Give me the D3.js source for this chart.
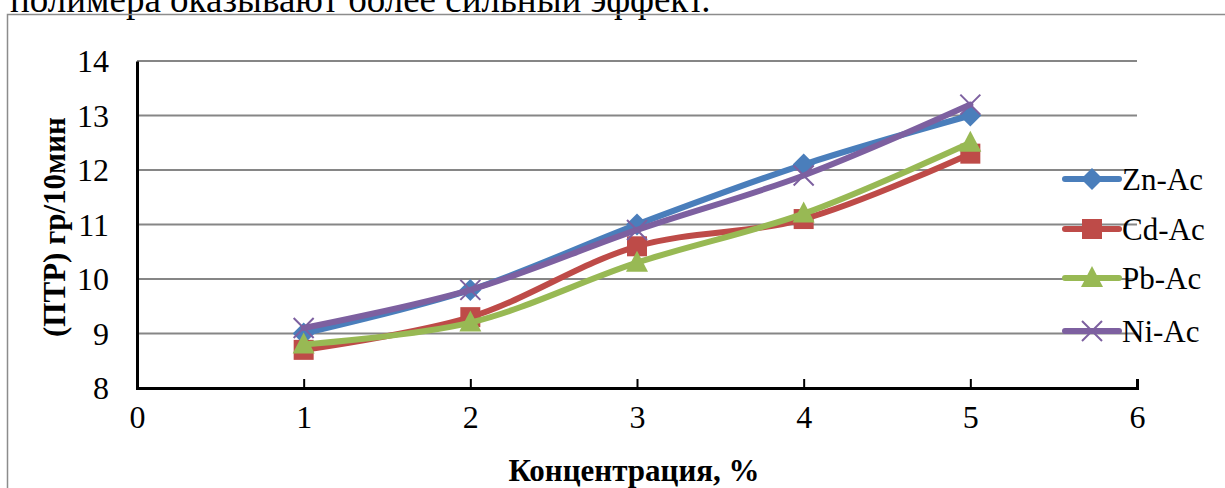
<!DOCTYPE html>
<html><head><meta charset="utf-8">
<script src="https://cdn.jsdelivr.net/npm/d3@7"></script>
<style>body{margin:0;background:#fff}svg{display:block}</style>
</head><body><svg id="c" width="1225" height="488"></svg>
<script>
const xTicks = [0,1,2,3,4,5,6];
const yTicks = [8,9,10,11,12,13,14];
const concentrations = [1,2,3,4,5];
const seriesNames = ["Zn-Ac","Cd-Ac","Pb-Ac","Ni-Ac"];
const znAc = [9.0, 9.8, 11.0, 12.1, 13.0];
const cdAc = [8.7, 9.3, 10.6, 11.1, 12.3];
const pbAc = [8.8, 9.2, 10.3, 11.2, 12.5];
const niAc = [9.1, 9.8, 10.9, 11.9, 13.2];
const colors = ["#4A7EBB","#BE4B48","#98B954","#7D60A0"];
const markers = ["diamond","square","triangle","cross"];
const seriesValues = [znAc, cdAc, pbAc, niAc];

const svg = d3.select("#c");
const font = "'Liberation Serif','Times New Roman',serif";

svg.append("text").attr("x",10).attr("y",11.5).attr("font-family",font).attr("font-size",37)
  .text("полимера оказывают более сильный эффект.");
svg.append("rect").attr("x",7.5).attr("y",14.5).attr("width",1240).attr("height",500)
  .attr("fill","none").attr("stroke","#8c8c8c").attr("stroke-width",1.5);

const x = d3.scaleLinear().domain([0,6]).range([137,1137]);
const y = d3.scaleLinear().domain([8,14]).range([388,61]);

svg.append("g").selectAll("line").data(yTicks.filter(d=>d>8)).join("line")
  .attr("x1",x(0)).attr("x2",x(6)).attr("y1",d=>y(d)).attr("y2",d=>y(d))
  .attr("stroke","#868686").attr("stroke-width",2);

const yAxis = svg.append("g").attr("transform",`translate(${x(0)},0)`)
  .call(d3.axisLeft(y).tickValues(yTicks).tickSize(0).tickPadding(28).tickFormat(d3.format("d")));
yAxis.select(".domain").attr("stroke","#000").attr("stroke-width",3);
yAxis.selectAll("text").attr("font-family",font).attr("font-size",32).attr("fill","#000").attr("dy","0.34em");

const xAxis = svg.append("g").attr("transform",`translate(0,${y(8)})`)
  .call(d3.axisBottom(x).tickValues(xTicks).tickSize(-9).tickPadding(17).tickFormat(d3.format("d")));
xAxis.select(".domain").attr("stroke","#000").attr("stroke-width",3);
xAxis.selectAll(".tick line").attr("stroke","#000").attr("stroke-width",2);
xAxis.selectAll("text").attr("font-family",font).attr("font-size",32).attr("fill","#000").attr("dy","0.71em");

svg.append("text").attr("x",634).attr("y",481).attr("text-anchor","middle")
  .attr("font-family",font).attr("font-size",31).attr("font-weight","bold").text("Концентрация, %");
svg.append("text").attr("transform","translate(65,227) rotate(-90)").attr("text-anchor","middle")
  .attr("font-family",font).attr("font-size",31).attr("font-weight","bold").text("(ПТР) гр/10мин");

function drawMarker(g, type, cx, cy, color){
  if(type==="diamond"){
    g.append("path").attr("d",`M${cx},${cy-11}L${cx+11},${cy}L${cx},${cy+11}L${cx-11},${cy}Z`).attr("fill",color);
  } else if(type==="square"){
    g.append("rect").attr("x",cx-10).attr("y",cy-10).attr("width",20).attr("height",20).attr("fill",color);
  } else if(type==="triangle"){
    g.append("path").attr("d",`M${cx},${cy-12}L${cx+11},${cy+9}L${cx-11},${cy+9}Z`).attr("fill",color);
  } else {
    g.append("path").attr("d",`M${cx-10},${cy-10}L${cx+10},${cy+10}M${cx+10},${cy-10}L${cx-10},${cy+10}`)
      .attr("stroke",color).attr("stroke-width",2).attr("fill","none");
  }
}

const line = d3.line().x(d=>x(d[0])).y(d=>y(d[1])).curve(d3.curveCatmullRom.alpha(0.5));
seriesValues.forEach((vals,i)=>{
  const g = svg.append("g");
  const pts = concentrations.map((c,j)=>[c,vals[j]]);
  g.append("path").attr("d",line(pts)).attr("fill","none").attr("stroke",colors[i]).attr("stroke-width",6).attr("stroke-linecap","round");
  pts.forEach(p=>drawMarker(g, markers[i], x(p[0]), y(p[1]), colors[i]));
});

const legY = [179,229,278,331];
seriesNames.forEach((n,i)=>{
  const g = svg.append("g");
  g.append("line").attr("x1",1065).attr("x2",1119).attr("y1",legY[i]).attr("y2",legY[i])
    .attr("stroke",colors[i]).attr("stroke-width",6).attr("stroke-linecap","round");
  drawMarker(g, markers[i], 1092, legY[i], colors[i]);
  g.append("text").attr("x",1122).attr("y",legY[i]).attr("dy","0.34em")
    .attr("font-family",font).attr("font-size",31).text(n);
});
</script></body></html>
